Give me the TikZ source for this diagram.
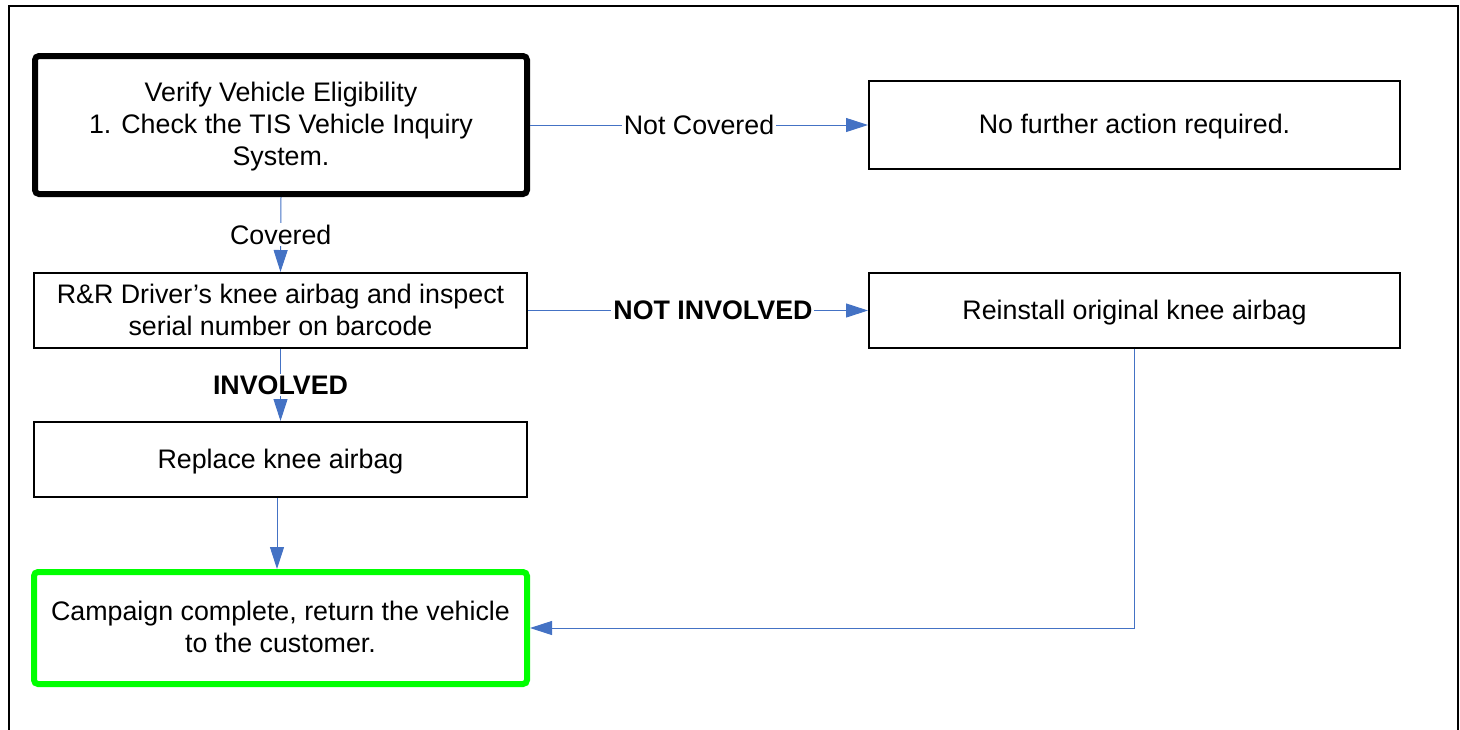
\documentclass[tikz,border=0pt]{standalone}
\usepackage{fontspec}
\setmainfont{Liberation Sans}
\usetikzlibrary{arrows.meta}
\definecolor{flowblue}{RGB}{68,114,196}
\definecolor{donegreen}{RGB}{0,255,0}

\tikzset{
stepbox/.style={draw, line width=1pt, align=center, inner sep=0pt,
  text depth=0.8pt, font=\fontsize{13.4}{16}\selectfont},
flow/.style={draw=flowblue, line width=0.5pt,
  -{Triangle[length=11pt,width=7pt,fill=flowblue]}},
lbl/.style={fill=white, inner sep=1pt, font=\fontsize{13.4}{16}\selectfont},
}

\begin{document}
\begin{tikzpicture}[x=0.5pt, y=-0.5pt]
\useasboundingbox (0,0) rectangle (1460,729);
\draw[line width=1pt] (9,760) -- (9,6) -- (1458,6) -- (1458,760);

\node[stepbox, line width=3pt, rounded corners=2pt,
  minimum width=246pt, minimum height=69pt] (verify) at (281,125)
  {Verify Vehicle Eligibility\\1. Check the TIS Vehicle Inquiry\\System.};
\node[stepbox, minimum width=265.5pt, minimum height=44pt]
  (nofurther) at (1134.5,125) {No further action required.};
\node[stepbox, minimum width=246.5pt, minimum height=37.5pt]
  (inspect) at (280.5,310.5)
  {R\&R Driver’s knee airbag and inspect\\serial number on barcode};
\node[stepbox, minimum width=265.5pt, minimum height=37.5pt]
  (reinstall) at (1134.5,310.5) {Reinstall original knee airbag};
\node[stepbox, minimum width=246.5pt, minimum height=37.5pt]
  (replace) at (280.5,459.5) {Replace knee airbag};
\node[stepbox, draw=donegreen, line width=3pt, rounded corners=2pt,
  minimum width=246.5pt, minimum height=56pt] (complete) at (280.5,628)
  {Campaign complete, return the vehicle\\to the customer.};

\draw[flow] (verify.east) -- node[lbl] {Not Covered} (nofurther.west);
\draw[flow] (verify.south) -- node[lbl] {Covered} (inspect.north);
\draw[flow] (inspect.east) -- node[lbl, pos=0.544, font=\fontsize{13.4}{16}\selectfont\bfseries]
  {NOT INVOLVED} (reinstall.west);
\draw[flow] (inspect.south) -- node[lbl, font=\fontsize{13.4}{16}\selectfont\bfseries]
  {INVOLVED} (replace.north);
\draw[flow] ([xshift=-1.75pt]replace.south) -- ([xshift=-1.75pt]complete.north);
\draw[flow] (reinstall.south) |- (complete.east);
\end{tikzpicture}
\end{document}
